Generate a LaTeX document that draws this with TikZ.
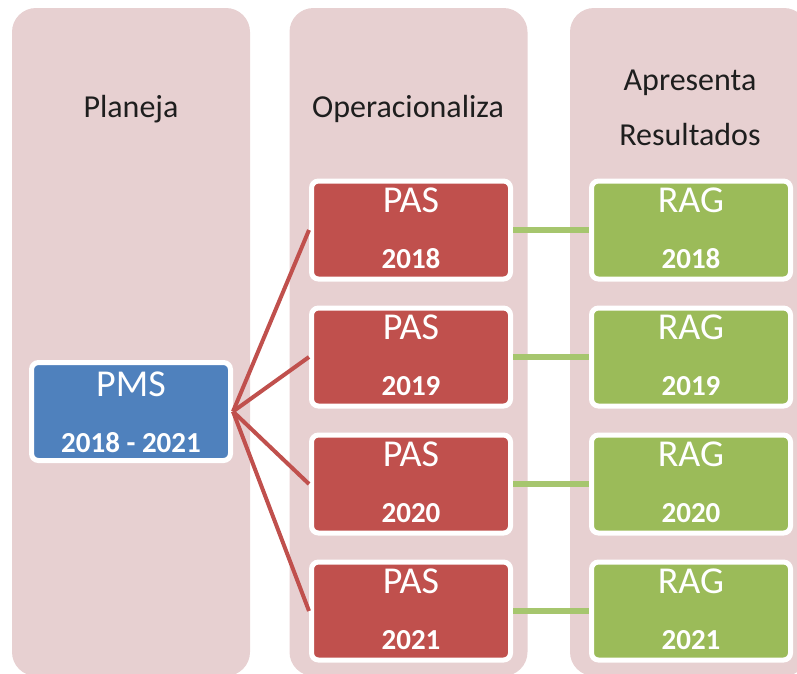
\documentclass[tikz,border=0pt]{standalone}
\usepackage{fontspec}
\setmainfont{Carlito}
\usepackage{tikz}
\usetikzlibrary{positioning}

\definecolor{panelpink}{RGB}{231,208,209}
\definecolor{pmsblue}{RGB}{79,129,189}
\definecolor{pasred}{RGB}{192,80,77}
\definecolor{raggreen}{RGB}{155,187,89}
\definecolor{linkgreen}{RGB}{166,198,110}
\definecolor{headgray}{RGB}{30,30,30}

\tikzset{
    panel/.style={fill=panelpink, rounded corners=24pt, inner sep=0pt,
        minimum width=238pt, minimum height=668pt},
    yearbox/.style={draw=white, line width=5pt, rounded corners=7pt,
        inner sep=0pt, minimum width=199pt, minimum height=98pt},
    header/.style={anchor=base, text=headgray, font=\fontsize{32}{38}\selectfont},
    boxtitle/.style={anchor=base, text=white, font=\fontsize{38}{44}\selectfont},
    boxyear/.style={anchor=base, text=white, font=\fontsize{29}{34}\selectfont\bfseries},
    redlink/.style={draw=pasred, line width=4pt},
    greenlink/.style={draw=linkgreen, line width=6pt}
}

\begin{document}
\begin{tikzpicture}[x=1pt,y=-1pt]

    \clip (0,0) rectangle (797,673);

    \node[panel] (planeja) at (131,342) {};
    \node[panel] (operac) at (408.5,342) {};
    \node[panel] (result) at (689,342) {};

    \node[header] (h-plan) at (131,117) {Planeja};
    \node[header] (h-oper) at (408,117) {Operacionaliza};
    \node[header] (h-apres) at (690,90) {Apresenta};
    \node[header] (h-res) at (690,145) {Resultados};

    \node[yearbox, fill=pmsblue] (pms) at (131,411.5) {};
    \node[boxtitle] (pms-t) at (131,396) {PMS};
    \node[boxyear] (pms-y) at (131,452) {2018 - 2021};

    \foreach \yr/\cy [count=\i] in {2018/230, 2019/357, 2020/484, 2021/611}
    {
        \node[yearbox, fill=pasred] (pas\i) at (411,\cy) {};
        \node[boxtitle] (pas\i-t) at (411,{\cy-18}) {PAS};
        \node[boxyear] (pas\i-y) at (411,{\cy+38}) {\yr};

        \node[yearbox, fill=raggreen] (rag\i) at (691,\cy) {};
        \node[boxtitle] (rag\i-t) at (691,{\cy-18}) {RAG};
        \node[boxyear] (rag\i-y) at (691,{\cy+38}) {\yr};

        \draw[redlink] (pms.east) -- (pas\i.west);
        \draw[greenlink] (pas\i.east) -- (rag\i.west);
    }

\end{tikzpicture}
\end{document}
